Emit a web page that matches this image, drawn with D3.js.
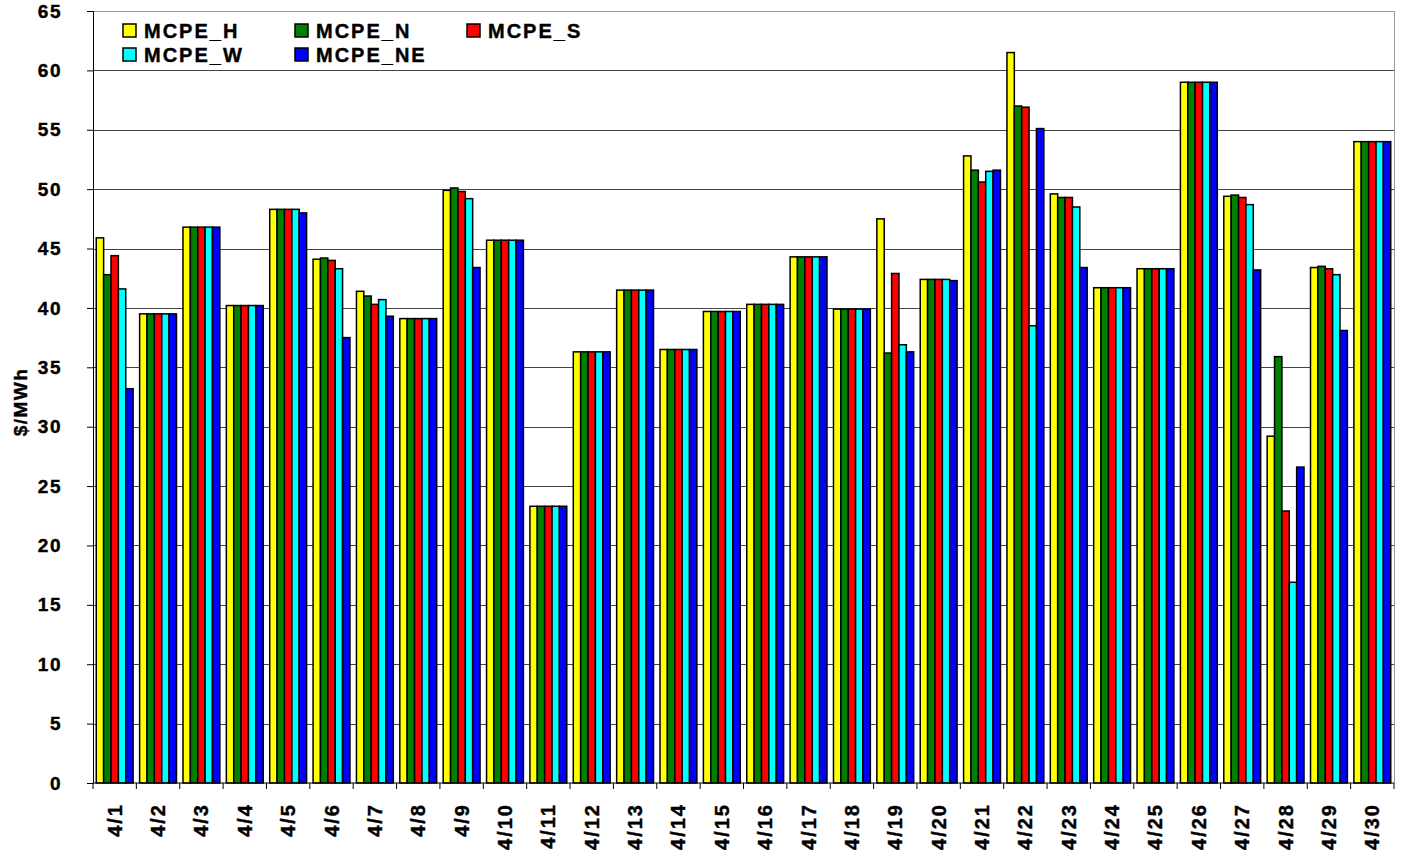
<!DOCTYPE html>
<html>
<head>
<meta charset="utf-8">
<script src="https://cdn.jsdelivr.net/npm/d3@7"></script>
<style>
  body { margin: 0; background: #fff; }
  text { font-family: Arial, "Liberation Sans", sans-serif; font-weight: bold; stroke: #000; stroke-width: 0.4px; }
</style>
</head>
<body>
<svg width="1405" height="850"></svg>
<script>
var days = ["4/1","4/2","4/3","4/4","4/5","4/6","4/7","4/8","4/9","4/10",
            "4/11","4/12","4/13","4/14","4/15","4/16","4/17","4/18","4/19","4/20",
            "4/21","4/22","4/23","4/24","4/25","4/26","4/27","4/28","4/29","4/30"];

var seriesNames = ["MCPE_H", "MCPE_N", "MCPE_S", "MCPE_W", "MCPE_NE"];
var seriesColors = ["#ffff00", "#008000", "#ff0000", "#00ffff", "#0000ff"];

var mcpeH  = [45.9,39.5,46.8,40.2,48.3,44.1,41.4,39.1,49.9,45.7,23.3,36.3,41.5,36.5,39.7,40.3,44.3,39.9,47.5,42.4,52.8,61.5,49.6,41.7,43.3,59.0,49.4,29.2,43.4,54.0];
var mcpeN  = [42.8,39.5,46.8,40.2,48.3,44.2,41.0,39.1,50.1,45.7,23.3,36.3,41.5,36.5,39.7,40.3,44.3,39.9,36.2,42.4,51.6,57.0,49.3,41.7,43.3,59.0,49.5,35.9,43.5,54.0];
var mcpeS  = [44.4,39.5,46.8,40.2,48.3,44.0,40.3,39.1,49.8,45.7,23.3,36.3,41.5,36.5,39.7,40.3,44.3,39.9,42.9,42.4,50.6,56.9,49.3,41.7,43.3,59.0,49.3,22.9,43.3,54.0];
var mcpeW  = [41.6,39.5,46.8,40.2,48.3,43.3,40.7,39.1,49.2,45.7,23.3,36.3,41.5,36.5,39.7,40.3,44.3,39.9,36.9,42.4,51.5,38.5,48.5,41.7,43.3,59.0,48.7,16.9,42.8,54.0];
var mcpeNE = [33.2,39.5,46.8,40.2,48.0,37.5,39.3,39.1,43.4,45.7,23.3,36.3,41.5,36.5,39.7,40.3,44.3,39.9,36.3,42.3,51.6,55.1,43.4,41.7,43.3,59.0,43.2,26.6,38.1,54.0];

var yTicks = [0,5,10,15,20,25,30,35,40,45,50,55,60,65];

var allSeries = [mcpeH, mcpeN, mcpeS, mcpeW, mcpeNE];

var svg = d3.select("svg");
var plotLeft = 93, plotRight = 1394, plotTop = 11, plotBottom = 783;

var xScale = d3.scaleBand()
  .domain(days)
  .range([plotLeft, plotRight])
  .paddingInner(0.15)
  .paddingOuter(0.075);

var xSub = d3.scaleBand()
  .domain(seriesNames)
  .range([0, xScale.bandwidth()]);

var yScale = d3.scaleLinear()
  .domain([0, 65])
  .range([plotBottom, plotTop]);

// gridlines
svg.append("g")
  .selectAll("line")
  .data(yTicks.filter(d => d > 0))
  .enter()
  .append("line")
    .attr("x1", plotLeft)
    .attr("x2", plotRight)
    .attr("y1", d => Math.round(yScale(d)) + 0.5)
    .attr("y2", d => Math.round(yScale(d)) + 0.5)
    .attr("stroke", d => d === 65 ? "#999" : "#444")
    .attr("stroke-width", 1);

// right border
svg.append("line")
  .attr("x1", plotRight + 0.5).attr("x2", plotRight + 0.5)
  .attr("y1", plotTop).attr("y2", plotBottom)
  .attr("stroke", "#999");

// bars
var rows = [];
days.forEach(function(day, i) {
  seriesNames.forEach(function(name, j) {
    rows.push({ day: day, name: name, value: allSeries[j][i], color: seriesColors[j] });
  });
});

svg.append("g")
  .selectAll("rect")
  .data(rows)
  .enter()
  .append("rect")
    .attr("x", d => xScale(d.day) + xSub(d.name))
    .attr("y", d => yScale(d.value))
    .attr("width", xSub.bandwidth())
    .attr("height", d => plotBottom - yScale(d.value))
    .attr("fill", d => d.color)
    .attr("stroke", "#000")
    .attr("stroke-width", 1.5);

// y axis
var yAxis = d3.axisLeft(yScale)
  .tickValues(yTicks)
  .tickSize(6)
  .tickPadding(25);

svg.append("g")
  .attr("transform", "translate(" + plotLeft + ",0)")
  .call(yAxis)
  .call(g => g.select(".domain").attr("stroke", "#000"))
  .call(g => g.selectAll("text")
    .style("font-size", "19px")
    .style("letter-spacing", "1.5px")
    .attr("fill", "#000"))
  .call(g => g.selectAll("line").attr("stroke", "#000"));

// x axis with ticks between categories
var xAxisG = svg.append("g")
  .attr("transform", "translate(0," + plotBottom + ")");

xAxisG.append("line")
  .attr("x1", plotLeft).attr("x2", plotRight)
  .attr("stroke", "#000");

var step = xScale.step();
xAxisG.selectAll(".sep")
  .data(days.concat(["end"]))
  .enter()
  .append("line")
    .attr("x1", (d, i) => plotLeft + i * step)
    .attr("x2", (d, i) => plotLeft + i * step)
    .attr("y1", 0)
    .attr("y2", 6)
    .attr("stroke", "#000");

xAxisG.selectAll(".lbl")
  .data(days)
  .enter()
  .append("text")
    .text(d => d)
    .attr("transform", d => "translate(" + (xScale(d) + xScale.bandwidth() / 2 + 7) + ",20) rotate(-90)")
    .style("text-anchor", "end")
    .style("font-size", "20px")
    .style("letter-spacing", "2px");

// y axis title
svg.append("text")
  .text("$/MWh")
  .attr("transform", "translate(27,402) rotate(-90)")
  .style("text-anchor", "middle")
  .style("font-size", "19px")
  .style("letter-spacing", "1.5px");

// legend
var legendPos = [
  { x: 123, y: 24 }, { x: 295, y: 24 }, { x: 467, y: 24 },
  { x: 123, y: 48 }, { x: 295, y: 48 }
];

var legend = svg.append("g")
  .selectAll("g")
  .data(seriesNames)
  .enter()
  .append("g")
    .attr("transform", (d, i) => "translate(" + legendPos[i].x + "," + legendPos[i].y + ")");

legend.append("rect")
  .attr("width", 13)
  .attr("height", 13)
  .attr("fill", (d, i) => seriesColors[i])
  .attr("stroke", "#000")
  .attr("stroke-width", 1.5);

legend.append("text")
  .text(d => d)
  .attr("x", 21)
  .attr("y", 14)
  .style("font-size", "20px")
  .style("letter-spacing", "2px");
</script>
</body>
</html>
